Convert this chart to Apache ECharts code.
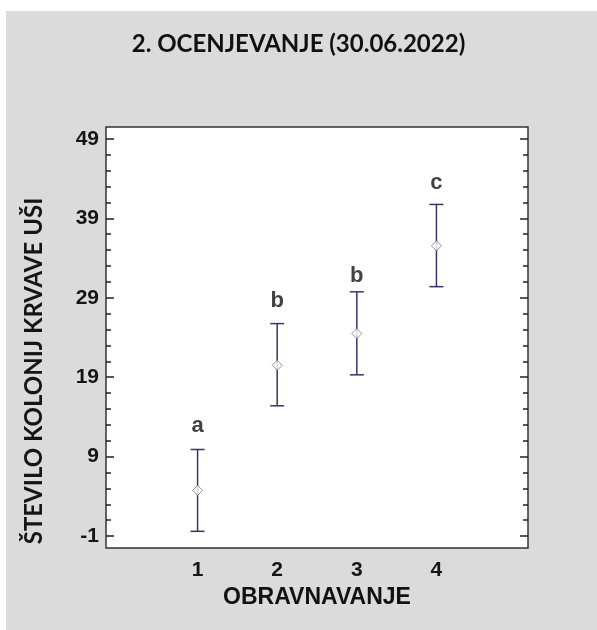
<!DOCTYPE html>
<html><head><meta charset="utf-8">
<script src="https://cdn.jsdelivr.net/npm/echarts@6/dist/echarts.min.js"></script>
<style>html,body{margin:0;padding:0;background:#fff}#c{width:597px;height:630px}</style>
</head><body><div id="c"></div>
<script>
const titleText = '2. OCENJEVANJE (30.06.2022)';
const xAxisName = 'OBRAVNAVANJE';
const yAxisName = 'ŠTEVILO KOLONIJ KRVAVE UŠI';
const categories = [1, 2, 3, 4];
const means = [4.75, 20.5, 24.5, 35.55];
const lower = [-0.4, 15.4, 19.3, 30.4];
const upper = [9.9, 25.75, 29.75, 40.75];
const groupLetters = ['a', 'b', 'b', 'c'];
const letterY = [12.9, 28.6, 31.8, 43.45];
const yTickLabels = [-1, 9, 19, 29, 39, 49];
const yMinorTicks = [1, 3, 5, 7, 11, 13, 15, 17, 21, 23, 25, 27, 31, 33, 35, 37, 41, 43, 45, 47];
const xTickLabels = [1, 2, 3, 4];

const barColor = '#35356a';
const tickColor = '#222';
const Y_MIN = -2.5, Y_MAX = 50.5;
const X_MIN = -0.15, X_MAX = 5.15;
const gridBox = {left: 106, top: 127, right: 69, bottom: 82};

function yAx(gridIndex, pos, vals, len, labels) {
  return {
    type: 'value', gridIndex: gridIndex, min: Y_MIN, max: Y_MAX, position: pos,
    axisLine: {show: false, onZero: false},
    splitLine: {show: false},
    axisTick: {show: true, inside: true, length: len, customValues: vals,
      lineStyle: {color: tickColor, width: 1.5}},
    axisLabel: labels ? {show: true, customValues: yTickLabels, margin: 7,
      fontFamily: 'Liberation Sans', fontWeight: 'bold', fontSize: 21, color: '#151515'} : {show: false}
  };
}

const chart = echarts.init(document.getElementById('c'), null, {renderer: 'canvas'});
chart.setOption({
  animation: false,
  backgroundColor: '#ffffff',
  graphic: [
    {type: 'rect', z: -100, silent: true, shape: {x: 6, y: 11, width: 591, height: 619}, style: {fill: '#dbdbdb'}},
    {type: 'text', x: 34, y: 371, rotation: Math.PI / 2, silent: true,
      style: {text: yAxisName, font: 'bold 24px Lato', fill: '#151515', textAlign: 'center', textVerticalAlign: 'middle'}}
  ],
  title: {
    text: titleText, left: 'center', top: 27,
    textStyle: {fontFamily: 'Lato', fontWeight: 'bold', fontSize: 24, color: '#111'}
  },
  grid: [
    Object.assign({show: true, backgroundColor: '#ffffff', borderColor: '#333', borderWidth: 1.5}, gridBox),
    Object.assign({show: false}, gridBox)
  ],
  xAxis: [{
    type: 'value', gridIndex: 0, min: X_MIN, max: X_MAX,
    axisLine: {show: false, onZero: false}, axisTick: {show: false}, splitLine: {show: false},
    axisLabel: {customValues: xTickLabels, margin: 12, fontFamily: 'Liberation Sans',
      fontWeight: 'bold', fontSize: 21, color: '#151515'},
    name: xAxisName, nameLocation: 'middle', nameGap: 38,
    nameTextStyle: {fontFamily: 'Liberation Sans', fontWeight: 'bold', fontSize: 23, color: '#111'}
  }, {
    type: 'value', gridIndex: 1, min: X_MIN, max: X_MAX, show: false,
    axisLine: {onZero: false}
  }],
  yAxis: [
    yAx(0, 'left', yTickLabels, 8, true),
    yAx(0, 'right', yTickLabels, 8, false),
    yAx(1, 'left', yMinorTicks, 5, false),
    yAx(1, 'right', yMinorTicks, 5, false)
  ],
  series: [
    {
      type: 'custom', xAxisIndex: 0, yAxisIndex: 0, z: 2,
      data: categories.map((c, i) => [c, lower[i], upper[i]]),
      renderItem: function (params, api) {
        const x = api.value(0);
        const pLo = api.coord([x, api.value(1)]);
        const pHi = api.coord([x, api.value(2)]);
        const hw = 7;
        const st = {stroke: barColor, lineWidth: 1.5};
        return {type: 'group', children: [
          {type: 'line', shape: {x1: pLo[0], y1: pLo[1], x2: pHi[0], y2: pHi[1]}, style: st},
          {type: 'line', shape: {x1: pLo[0] - hw, y1: pLo[1], x2: pLo[0] + hw, y2: pLo[1]}, style: st},
          {type: 'line', shape: {x1: pHi[0] - hw, y1: pHi[1], x2: pHi[0] + hw, y2: pHi[1]}, style: st}
        ]};
      }
    },
    {
      type: 'scatter', xAxisIndex: 0, yAxisIndex: 0, z: 3,
      symbol: 'diamond', symbolSize: [10, 10],
      itemStyle: {color: '#ffffff', borderColor: '#777', borderWidth: 1},
      data: categories.map((c, i) => [c, means[i]])
    },
    {
      type: 'scatter', xAxisIndex: 0, yAxisIndex: 0, z: 4,
      symbolSize: 1, itemStyle: {color: 'rgba(0,0,0,0)'},
      label: {show: true, position: 'inside', formatter: p => groupLetters[p.dataIndex],
        fontFamily: 'Liberation Sans', fontWeight: 'bold', fontSize: 22, color: '#111'},
      data: categories.map((c, i) => [c, letterY[i]])
    }
  ]
});
</script></body></html>
